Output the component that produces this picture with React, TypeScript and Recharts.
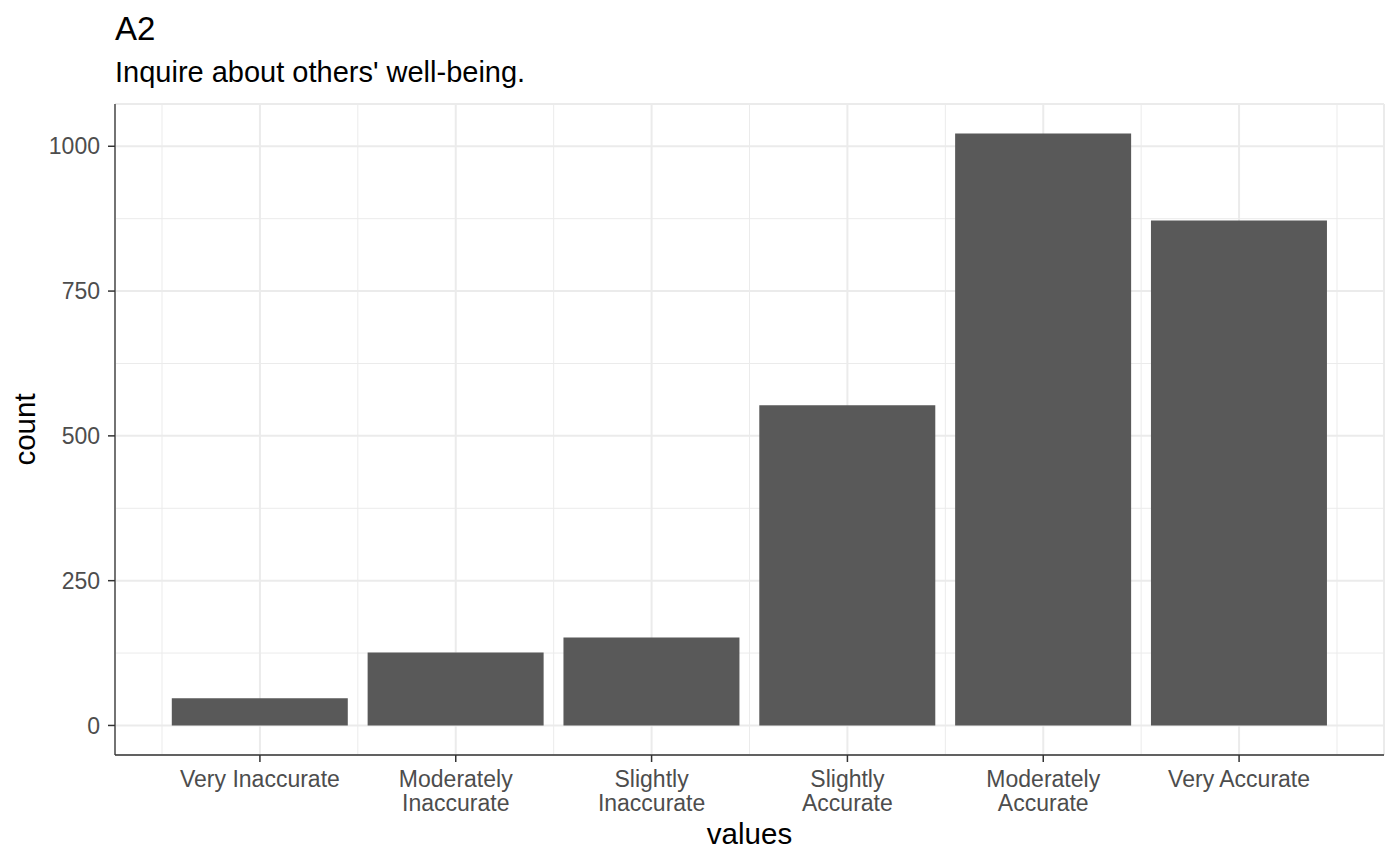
import React from 'react';
import { BarChart, Bar, XAxis, YAxis, CartesianGrid, Label } from 'recharts';

const categories = [
	'Very Inaccurate',
	'Moderately Inaccurate',
	'Slightly Inaccurate',
	'Slightly Accurate',
	'Moderately Accurate',
	'Very Accurate'
];
const tickLabels = [
	['Very Inaccurate'],
	['Moderately', 'Inaccurate'],
	['Slightly', 'Inaccurate'],
	['Slightly', 'Accurate'],
	['Moderately', 'Accurate'],
	['Very Accurate']
];
const counts = [47, 126, 152, 553, 1022, 872];
const yTicks = [0, 250, 500, 750, 1000];
const yMinorTicks = [125, 375, 625, 875];
const yDomain = [-51, 1073];

const data = categories.map((c, i) => ({ values: c, count: counts[i] }));

const bar = '#595959';
const grid = '#ebebeb';
const ink = '#333333';
const tickText = '#4d4d4d';
const font = '"Liberation Sans", Arial, Helvetica, sans-serif';

// minor vertical grid lines sit on the band edges of the category axis
const minorX = ({ xAxis }: any) => {
	const s = xAxis.scale;
	const at = (v: string) => (typeof s === 'function' ? s(v) : s.map(v));
	const bw = typeof s.bandwidth === 'function' ? s.bandwidth() : 0;
	const starts = categories.map(at);
	return [...starts, starts[starts.length - 1] + bw];
};

const XTick = (props: any) => {
	const { x, y, payload } = props;
	const lines = tickLabels[categories.indexOf(payload.value)] || [payload.value];
	return (
		<text x={x} y={y} textAnchor="middle" fill={tickText} fontSize={23} fontFamily={font}>
			{lines.map((l, i) => (
				<tspan key={i} x={x} dy={i === 0 ? '0.72em' : '1.065em'}>{l}</tspan>
			))}
		</text>
	);
};

const YTitle = (props: any) => {
	const { x, y, height } = props.viewBox;
	const cx = x + 35;
	const cy = y + height / 2;
	return (
		<text x={cx} y={cy} transform={`rotate(-90, ${cx}, ${cy})`} textAnchor="middle" fontSize={29.5} fill="#000" fontFamily={font}>
			count
		</text>
	);
};

const XTitle = (props: any) => {
	const { x, y, width } = props.viewBox;
	return (
		<text x={x + width / 2} y={y + 89} textAnchor="middle" fontSize={29.5} fill="#000" fontFamily={font}>
			values
		</text>
	);
};

export default function App() {
	return (
		<div style={{ position: 'absolute', left: 0, top: 0, width: 1400, height: 865, background: '#fff', fontFamily: font }}>
			<BarChart
				width={1400}
				height={865}
				data={data}
				barCategoryGap="5%"
				margin={{ top: 104, right: 16, bottom: 0, left: 0 }}
			>
				<text x={115} y={40} fontSize={33} fill="#000" fontFamily={font}>A2</text>
				<text x={115} y={82} fontSize={29} fill="#000" fontFamily={font}>Inquire about others' well-being.</text>

				<YAxis yAxisId="minor" type="number" hide domain={yDomain} ticks={yMinorTicks} allowDataOverflow />
				<CartesianGrid yAxisId="minor" stroke={grid} strokeWidth={1} verticalCoordinatesGenerator={minorX} />
				<CartesianGrid stroke={grid} strokeWidth={2} />

				<XAxis
					dataKey="values"
					height={110}
					interval={0}
					padding={{ left: 47, right: 47 }}
					tickSize={7}
					tickMargin={8}
					tickLine={{ stroke: ink, strokeWidth: 1.5 }}
					axisLine={{ stroke: ink, strokeWidth: 1.3 }}
					tick={<XTick />}
				>
					<Label content={<XTitle />} />
				</XAxis>
				<YAxis
					width={115}
					type="number"
					domain={yDomain}
					ticks={yTicks}
					allowDataOverflow
					tickSize={7}
					tickMargin={8}
					tickLine={{ stroke: ink, strokeWidth: 1.5 }}
					axisLine={{ stroke: ink, strokeWidth: 1.3 }}
					tick={{ fill: tickText, fontSize: 23, fontFamily: font }}
				>
					<Label content={<YTitle />} />
				</YAxis>
				<XAxis xAxisId="top" orientation="top" dataKey="values" height={0} tick={false} tickLine={false} axisLine={{ stroke: ink, strokeWidth: 1.3 }} />
				<YAxis yAxisId="right" orientation="right" width={0} tick={false} tickLine={false} axisLine={{ stroke: ink, strokeWidth: 1.3 }} />

				<Bar dataKey="count" fill={bar} isAnimationActive={false} />
			</BarChart>
		</div>
	);
}
